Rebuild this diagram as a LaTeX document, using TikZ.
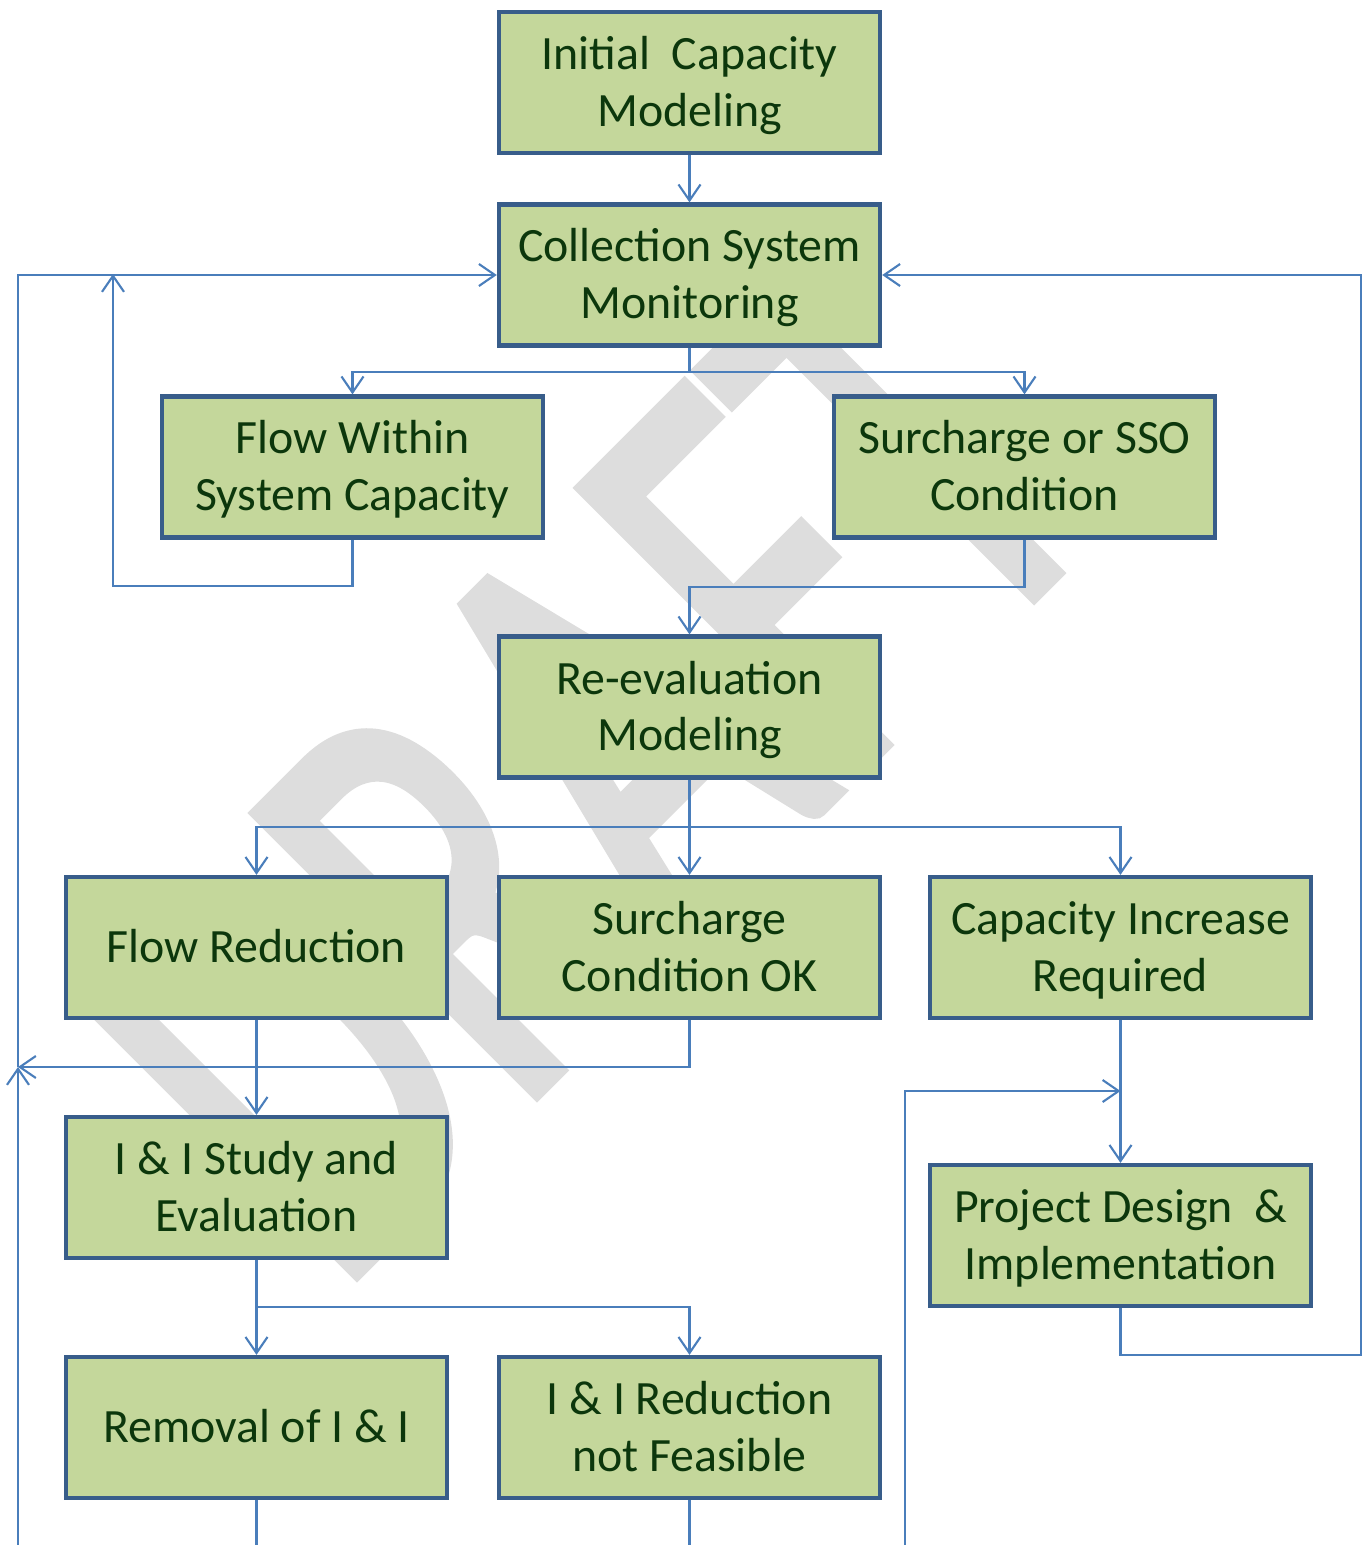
\documentclass[tikz,border=0pt]{standalone}
\usepackage{fontspec}
\setmainfont{Carlito}
\newfontfamily\draftfont[FakeBold=2.2]{Carlito}
\usetikzlibrary{arrows.meta}

\definecolor{boxfill}{RGB}{196,215,155}
\definecolor{boxline}{RGB}{56,93,138}
\definecolor{boxtext}{RGB}{12,55,12}
\definecolor{linkblue}{RGB}{74,126,187}
\definecolor{draftgray}{RGB}{221,221,221}

% same height and depth for every line of a box
\newcommand{\lnstrut}{\rule[-3.6pt]{0pt}{16pt}}

\tikzset{
  stage/.style={draw=boxline, line width=1.2pt, fill=boxfill, text=boxtext,
    minimum width=3.81cm, minimum height=1.41cm, inner sep=0pt,
    text width=3.75cm, align=flush center,
    font=\fontsize{13.6}{16.2}\selectfont,
    execute at begin node=\lnstrut, execute at end node=\lnstrut},
  link/.style={draw=linkblue, line width=0.6pt, -{Straight Barb[length=1.6mm,width=2.2mm]}},
  wire/.style={draw=linkblue, line width=0.6pt},
}

\begin{document}
\begin{tikzpicture}[x=0.01cm, y=-0.01cm]
  \useasboundingbox (0,0) rectangle (1369,1545);

  % watermark behind everything
  \node[text=draftgray, anchor=base, rotate=45, yscale=1.5, inner sep=0pt,
        font=\draftfont\fontsize{117}{117}\selectfont] (draft) at (726,904) {DRAFT};

  % stages
  \node[stage] (init)     at (689.5,82.5)   {Initial\ \ Capacity\\Modeling};
  \node[stage] (monitor)  at (689.5,275)    {Collection System\\Monitoring};
  \node[stage] (within)   at (352.5,467)    {Flow Within\\System Capacity};
  \node[stage] (sso)      at (1024.5,467)   {Surcharge or SSO\\Condition};
  \node[stage] (reeval)   at (689.5,707)    {Re-evaluation\\Modeling};
  \node[stage] (flowred)  at (256.5,947.5)  {Flow Reduction};
  \node[stage] (condok)   at (689.5,947.5)  {Surcharge\\Condition OK};
  \node[stage] (capinc)   at (1120.5,947.5) {Capacity Increase\\Required};
  \node[stage] (iistudy)  at (256.5,1187.5) {I \& I Study and\\Evaluation};
  \node[stage] (design)   at (1120.5,1235.5){Project Design\ \ \&\\Implementation};
  \node[stage] (removal)  at (256.5,1427.5) {Removal of I \& I};
  \node[stage] (notfeas)  at (689.5,1427.5) {I \& I Reduction\\not Feasible};

  % split points and corners
  \coordinate (split1) at (689.5,372);
  \coordinate (split2) at (689.5,827);
  \coordinate (split3) at (256.5,1307);
  \coordinate (backL)  at (18,1067);
  \coordinate (backR)  at (1361,1355);
  \coordinate (loopW)  at (113,586);
  \coordinate (loopWtop) at (113,274);
  \coordinate (joinD)  at (1120.5,1091);

  % ends running off the bottom edge
  \coordinate (offL)   at (18,1545);
  \coordinate (offD)   at (905,1545);
  \coordinate (offRem) at (256.5,1545);
  \coordinate (offNF)  at (689.5,1545);

  \draw[link] (init.south) -- (monitor.north);
  \draw[wire] (monitor.south) -- (split1);
  \draw[link] (split1) -| (within.north);
  \draw[link] (split1) -| (sso.north);

  \draw[link] (within.south) |- (loopW) -- (loopWtop);
  \draw[link] (sso.south) |- (689.5,587) -- (reeval.north);

  \draw[link] (reeval.south) -- (condok.north);
  \draw[link] (split2) -| (flowred.north);
  \draw[link] (split2) -| (capinc.north);

  \draw[link] (flowred.south) -- (iistudy.north);
  \draw[link] (condok.south) |- (backL);
  \draw[link] (offL) -- (backL);
  \draw[link] (backL) |- (monitor.west);

  \draw[link] (capinc.south) -- (design.north);
  \draw[link] (offD) |- (joinD);
  \draw[link] (design.south) |- (backR) |- (monitor.east);

  \draw[link] (iistudy.south) -- (removal.north);
  \draw[link] (split3) -| (notfeas.north);
  \draw[wire] (removal.south) -- (offRem);
  \draw[wire] (notfeas.south) -- (offNF);
\end{tikzpicture}
\end{document}
